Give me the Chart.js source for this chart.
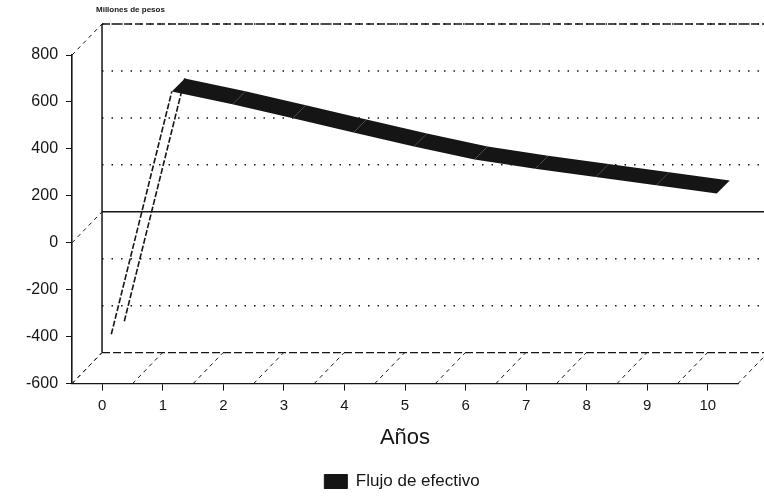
<!DOCTYPE html>
<html>
<head>
<meta charset="utf-8">
<script src="https://cdn.jsdelivr.net/npm/chart.js@4"></script>
<style>
  body { margin: 0; background: #fff; }
  canvas { display: block; }
</style>
</head>
<body>
<canvas id="flujo" width="764" height="500"></canvas>
<script>
// data (millones de pesos)
const years = ['0', '1', '2', '3', '4', '5', '6', '7', '8', '9', '10'];
const flujo = [-390, 645, 590, 530, 470, 410, 355, 315, 280, 245, 210];
const yTicks = [-600, -400, -200, 0, 200, 400, 600, 800];

const INK = '#151515';
const FONT = '"Liberation Sans", Arial, sans-serif';
const DX = 30, DY = -31;      // depth of the back wall
const FX = 9;                  // ribbon front edge shift
const RX = 13, RY = -13;       // ribbon depth

// draws the fake 3D box: back wall, grid, floor diagonals
const box3d = {
    id: 'box3d',
    afterLayout(chart) {
        // legend sits a bit right of the page centre in the original
        const lg = chart.legend;
        lg.width = lg.right - 66;
        lg.left = 66;
    },
    beforeDatasetsDraw(chart) {
        const ctx = chart.ctx;
        const { left, right, top, bottom } = chart.chartArea;
        const y = chart.scales.y;
        const x = chart.scales.x;
        ctx.save();
        ctx.strokeStyle = INK;

        // back wall left edge
        ctx.lineWidth = 1.5;
        ctx.setLineDash([]);
        ctx.beginPath();
        ctx.moveTo(left + DX, top + DY);
        ctx.lineTo(left + DX, bottom + DY);
        ctx.stroke();

        // horizontal lines on the back wall
        yTicks.forEach(v => {
            const py = y.getPixelForValue(v) + DY;
            ctx.beginPath();
            if (v === 0) {
                ctx.setLineDash([]);
                ctx.lineWidth = 1.3;
            } else if (v === -600) {
                ctx.setLineDash([8, 3]);
                ctx.lineWidth = 1.3;
            } else {
                ctx.setLineDash([1.5, 8]);
                ctx.lineWidth = 1.5;
            }
            ctx.moveTo(left + DX, py);
            ctx.lineTo(right + DX, py);
            ctx.stroke();
        });
        // top edge
        ctx.setLineDash([8, 3]);
        ctx.lineWidth = 1.3;
        ctx.beginPath();
        ctx.moveTo(left + DX, top + DY);
        ctx.lineTo(right + DX, top + DY);
        ctx.stroke();

        // diagonals from the front axis
        ctx.setLineDash([4, 4]);
        ctx.lineWidth = 1;
        [800, 0, -600].forEach(v => {
            const py = y.getPixelForValue(v);
            ctx.beginPath();
            ctx.moveTo(left, py);
            ctx.lineTo(left + DX, py + DY);
            ctx.stroke();
        });

        // floor diagonals at category boundaries
        const step = x.getPixelForValue(1) - x.getPixelForValue(0);
        for (let k = 0; k <= years.length; k++) {
            const px = x.getPixelForValue(0) - step / 2 + k * step;
            ctx.beginPath();
            ctx.moveTo(px, bottom);
            ctx.lineTo(px + DX, bottom + DY);
            ctx.stroke();
        }

        // little title over the wall
        ctx.setLineDash([]);
        ctx.fillStyle = INK;
        ctx.font = 'bold 8px ' + FONT;
        ctx.textBaseline = 'middle';
        ctx.fillText('Millones de pesos', 96, 10);
        ctx.restore();
    },
    // ribbon line, drawn from the dataset points
    afterDatasetsDraw(chart) {
        const ctx = chart.ctx;
        const pts = chart.getDatasetMeta(0).data;
        ctx.save();
        for (let i = 0; i < pts.length - 1; i++) {
            const a = pts[i], b = pts[i + 1];
            const fa = [a.x + FX, a.y], fb = [b.x + FX, b.y];
            if (b.y < a.y) {
                // rising: only the two edges show
                ctx.strokeStyle = INK;
                ctx.lineWidth = 1.6;
                ctx.setLineDash([6, 2]);
                ctx.beginPath();
                ctx.moveTo(fa[0], fa[1]);
                ctx.lineTo(fb[0], fb[1]);
                ctx.moveTo(fa[0] + RX, fa[1] + RY);
                ctx.lineTo(fb[0] + RX, fb[1] + RY);
                ctx.stroke();
            } else {
                ctx.fillStyle = INK;
                ctx.beginPath();
                ctx.moveTo(fa[0], fa[1]);
                ctx.lineTo(fb[0], fb[1]);
                ctx.lineTo(fb[0] + RX, fb[1] + RY);
                ctx.lineTo(fa[0] + RX, fa[1] + RY);
                ctx.closePath();
                ctx.fill();
            }
        }
        ctx.restore();
    }
};

new Chart(document.getElementById('flujo'), {
    type: 'line',
    data: {
        labels: years,
        datasets: [{
            label: 'Flujo de efectivo',
            data: flujo,
            showLine: false,
            pointRadius: 0,
            borderColor: INK,
            backgroundColor: INK,
            borderWidth: 1
        }]
    },
    options: {
        responsive: false,
        devicePixelRatio: 1,
        animation: false,
        layout: {
            padding: { top: 55, right: 26, left: 18, bottom: 0 }
        },
        plugins: {
            legend: {
                position: 'bottom',
                labels: {
                    boxWidth: 23,
                    boxHeight: 14,
                    color: INK,
                    font: { size: 17, family: FONT },
                    padding: 5
                }
            },
            title: { display: false },
            tooltip: { enabled: false }
        },
        scales: {
            x: {
                offset: true,
                grid: {
                    offset: false,
                    drawOnChartArea: false,
                    tickLength: 7,
                    color: INK
                },
                border: { color: INK, width: 1.3, dash: [8, 3] },
                ticks: {
                    color: INK,
                    padding: 6,
                    maxRotation: 0,
                    font: { size: 15, family: FONT }
                },
                title: {
                    display: true,
                    text: 'Años',
                    color: INK,
                    padding: { top: 4, bottom: 17 },
                    font: { size: 22, family: FONT }
                }
            },
            y: {
                min: -600,
                max: 800,
                grid: {
                    drawOnChartArea: false,
                    tickLength: 6,
                    color: INK
                },
                border: { color: INK, width: 1.6 },
                ticks: {
                    stepSize: 200,
                    color: INK,
                    padding: 8,
                    font: { size: 16, family: FONT }
                }
            }
        }
    },
    plugins: [box3d]
});
</script>
</body>
</html>
